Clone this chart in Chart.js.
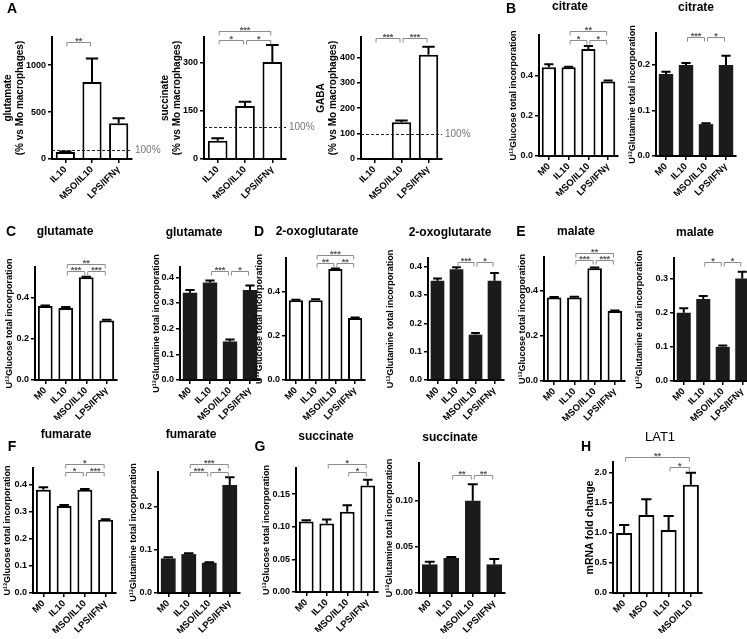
<!DOCTYPE html>
<html><head><meta charset="utf-8">
<script src="https://cdn.jsdelivr.net/npm/chart.js@4.4.1/dist/chart.umd.min.js"></script>
<style>
html,body{margin:0;padding:0;background:#fff;width:747px;height:639px;overflow:hidden;}
#wrap{position:relative;width:747px;height:639px;overflow:hidden;background:#fff;}
canvas{position:absolute;left:0;top:0;}
</style></head><body><div id="wrap"></div>
<script>
// ---------- categories ----------
const groupsA = ['IL10', 'MSO/IL10', 'LPS/IFNγ'];
const groups4 = ['M0', 'IL10', 'MSO/IL10', 'LPS/IFNγ'];
const groupsH = ['M0', 'MSO', 'IL10', 'MSO/IL10'];

// ---------- values (mean) and SEM ----------
const A_glutamate = [75, 820, 380];        const A_glutamate_sem = [5, 250, 55];
const A_succinate = [57, 165, 302];        const A_succinate_sem = [8, 13, 53];
const A_gaba = [0, 145, 410];              const A_gaba_sem = [0, 6, 32];
const B_citrate_glc = [0.44, 0.44, 0.53, 0.37];   const B_citrate_glc_sem = [0.015, 0.003, 0.015, 0.005];
const B_citrate_gln = [0.18, 0.20, 0.07, 0.20];   const B_citrate_gln_sem = [0.005, 0.004, 0.002, 0.02];
const C_glutamate_glc = [0.36, 0.35, 0.50, 0.29]; const C_glutamate_glc_sem = [0.003, 0.005, 0.003, 0.003];
const C_glutamate_gln = [0.34, 0.38, 0.15, 0.35]; const C_glutamate_gln_sem = [0.01, 0.007, 0.008, 0.018];
const D_oxo_glc = [0.36, 0.36, 0.50, 0.28];       const D_oxo_glc_sem = [0.002, 0.004, 0.003, 0.002];
const D_oxo_gln = [0.35, 0.39, 0.16, 0.35];       const D_oxo_gln_sem = [0.008, 0.007, 0.006, 0.027];
const E_malate_glc = [0.37, 0.37, 0.50, 0.31];    const E_malate_glc_sem = [0.003, 0.004, 0.003, 0.003];
const E_malate_gln = [0.20, 0.24, 0.10, 0.30];    const E_malate_gln_sem = [0.013, 0.009, 0.004, 0.02];
const F_fumarate_glc = [0.38, 0.32, 0.38, 0.27];  const F_fumarate_glc_sem = [0.009, 0.004, 0.003, 0.001];
const F_fumarate_gln = [0.08, 0.09, 0.07, 0.25];  const F_fumarate_gln_sem = [0.003, 0.002, 0.001, 0.018];
const G_succinate_glc = [0.108, 0.105, 0.123, 0.163]; const G_succinate_glc_sem = [0.002, 0.006, 0.010, 0.009];
const G_succinate_gln = [0.031, 0.038, 0.100, 0.031]; const G_succinate_gln_sem = [0.003, 0.001, 0.018, 0.006];
const H_lat1 = [1.0, 1.3, 1.05, 1.8];             const H_lat1_sem = [0.13, 0.26, 0.23, 0.2];

// ---------- y tick labels ----------
const ticksA1 = [0, 500, 1000];
const ticksA2 = [0, 150, 300];
const ticksA3 = [0, 100, 200, 300, 400];
const ticks02 = [0, 0.2, 0.4];
const ticks01_2 = [0, 0.1, 0.2];
const ticks01_3 = [0, 0.1, 0.2, 0.3];
const ticks01_4 = [0, 0.1, 0.2, 0.3, 0.4];
const ticksG1 = [0, 0.05, 0.10, 0.15];
const ticksG2 = [0, 0.05, 0.10];
const ticksH = [0, 0.5, 1.0, 1.5, 2.0];

// ---------- significance brackets [from, to, label, level] ----------
const sigA1 = [[0, 1, '**', 0]];
const sigA2 = [[0, 1, '*', 0], [1, 2, '*', 0], [0, 2, '***', 1]];
const sigA3 = [[0, 1, '***', 0], [1, 2, '***', 0]];
const sigB1 = [[1, 2, '*', 0], [2, 3, '*', 0], [1, 3, '**', 1]];
const sigB2 = [[1, 2, '***', 0], [2, 3, '*', 0]];
const sigC1 = [[1, 2, '***', 0], [2, 3, '***', 0], [1, 3, '**', 1]];
const sigC2 = [[1, 2, '***', 0], [2, 3, '*', 0]];
const sigD1 = [[1, 2, '**', 0], [2, 3, '**', 0], [1, 3, '***', 1]];
const sigD2 = [[1, 2, '***', 0], [2, 3, '*', 0]];
const sigE1 = [[1, 2, '***', 0], [2, 3, '***', 0], [1, 3, '**', 1]];
const sigE2 = [[1, 2, '*', 0], [2, 3, '*', 0]];
const sigF1 = [[1, 2, '*', 0], [2, 3, '***', 0], [1, 3, '*', 1]];
const sigF2 = [[1, 2, '***', 0], [2, 3, '*', 0], [1, 3, '***', 1]];
const sigG1 = [[2, 3, '*', 0], [1, 3, '*', 1]];
const sigG2 = [[1, 2, '**', 0], [2, 3, '**', 0]];
const sigH = [[2, 3, '*', 0], [0, 3, '**', 1]];

const FONT = '"Liberation Sans", Arial, Helvetica, sans-serif';
const WHITE = '#ffffff', BLACK = '#1b1b1b';
const CW = 760, CH = 639;
const wrap = document.getElementById('wrap');

const yGlc = 'U¹³Glucose total incorporation';
const yGln = 'U¹³Glutamine total incorporation';
const yPct = n => [n, '(% vs Mo macrophages)'];

function extras(c) {
  return {
    id: 'extras',
    afterDatasetsDraw(chart) {
      const ctx = chart.ctx, meta = chart.getDatasetMeta(0), ys = chart.scales.y;
      ctx.save();
      ctx.strokeStyle = '#000'; ctx.lineWidth = 2;
      meta.data.forEach((bar, i) => {
        const s = c.sem[i];
        if (!s) return;
        const y1 = ys.getPixelForValue(c.values[i] + s);
        const hw = bar.width * 0.32;
        ctx.beginPath();
        ctx.moveTo(bar.x, bar.y); ctx.lineTo(bar.x, y1);
        ctx.moveTo(bar.x - hw, y1); ctx.lineTo(bar.x + hw, y1);
        ctx.stroke();
      });
      ctx.restore();
    },
    afterDraw(chart) {
      const ctx = chart.ctx, meta = chart.getDatasetMeta(0), ca = chart.chartArea, ys = chart.scales.y;
      ctx.save();
      if (c.ref) {
        const y = Math.round(ys.getPixelForValue(c.ref)) + 0.5;
        ctx.strokeStyle = '#222'; ctx.lineWidth = 1; ctx.setLineDash([3, 2]);
        ctx.beginPath(); ctx.moveTo(ca.left, y); ctx.lineTo(ca.right, y); ctx.stroke();
        ctx.setLineDash([]);
        ctx.fillStyle = '#777'; ctx.font = '10px ' + FONT; ctx.textAlign = 'left'; ctx.textBaseline = 'middle';
        ctx.fillText(c.refLabel, ca.right + 3, y);
      }
      (c.sig || []).forEach(([i, j, lab, lev]) => {
        const y = Math.round(ca.top + c.brBase - lev * c.brStep) + 0.5;
        const xi = meta.data[i].x + 1.5, xj = meta.data[j].x - 1.5;
        ctx.strokeStyle = '#8c8c8c'; ctx.lineWidth = 1;
        ctx.beginPath(); ctx.moveTo(xi, y + 4); ctx.lineTo(xi, y); ctx.lineTo(xj, y); ctx.lineTo(xj, y + 4); ctx.stroke();
        ctx.fillStyle = '#555'; ctx.font = 'bold 9px ' + FONT; ctx.textAlign = 'center'; ctx.textBaseline = 'alphabetic';
        ctx.fillText(lab, (xi + xj) / 2, y + 1);
      });
      if (c.title) {
        ctx.fillStyle = '#000'; ctx.textAlign = 'center'; ctx.textBaseline = 'middle';
        ctx.font = (c.titleBold === false ? '' : 'bold ') + (c.titleSize || 12) + 'px ' + FONT;
        ctx.fillText(c.title, c.titleX, c.titleY);
      }
      if (c.letter) {
        ctx.fillStyle = '#000'; ctx.textAlign = 'center'; ctx.textBaseline = 'middle';
        ctx.font = 'bold 14px ' + FONT;
        ctx.fillText(c.letter, c.letterX, c.letterY);
      }
      ctx.restore();
    }
  };
}

function makeChart(c) {
  const cv = document.createElement('canvas');
  cv.width = CW; cv.height = CH;
  cv.style.width = CW + 'px'; cv.style.height = CH + 'px';
  wrap.appendChild(cv);
  const yFont = c.yFont || 9;
  const ylh = yFont * 1.2;
  const yW = c.ax - c.yTitleX + ylh / 2;
  const xH = 40;
  const pad = { left: c.ax - yW, top: c.top, right: CW - c.end, bottom: CH - c.bot - xH };
  const tickFont = { family: FONT, size: 9, weight: 'bold' };
  return new Chart(cv, {
    type: 'bar',
    data: {
      labels: c.labels,
      datasets: [{
        data: c.values,
        backgroundColor: c.fill,
        borderColor: '#000',
        borderWidth: c.fill === WHITE ? 2 : 0,
        barPercentage: c.barPct || 0.72,
        categoryPercentage: 1
      }]
    },
    options: {
      responsive: false, animation: false, devicePixelRatio: 1, events: [],
      layout: { padding: pad },
      plugins: { legend: { display: false }, tooltip: { enabled: false } },
      scales: {
        x: {
          offset: true,
          grid: { display: true, drawOnChartArea: false, offset: false, tickLength: 4, color: '#000', lineWidth: 1.5 },
          border: { display: true, color: '#000', width: 2 },
          ticks: { autoSkip: false, minRotation: 45, maxRotation: 45, padding: 1, color: '#000', font: { family: FONT, size: 9.5, weight: 'bold' } },
          afterFit: s => { s.height = xH; }
        },
        y: {
          min: 0, max: c.yMax,
          grid: { display: true, drawOnChartArea: false, tickLength: 4, color: '#000', lineWidth: 1.5 },
          border: { display: true, color: '#000', width: 2 },
          afterBuildTicks: s => { s.ticks = c.yTicks.map(v => ({ value: v })); },
          ticks: { padding: 2, color: '#000', font: tickFont, callback: v => Number(v).toFixed(c.dec) },
          title: { display: true, text: c.yTitle, padding: 0, color: '#000', font: { family: FONT, size: yFont, weight: 'bold', lineHeight: 1.2 } },
          afterFit: s => { s.width = yW; }
        }
      }
    },
    plugins: [extras(c)]
  });
}

const charts = [
  // ---- A ----
  { labels: groupsA, values: A_glutamate, sem: A_glutamate_sem, fill: WHITE, yTicks: ticksA1, yMax: 1300, dec: 0,
    ax: 52, end: 132, top: 37, bot: 159, yTitle: yPct('glutamate'), yTitleX: 8, yFont: 10,
    sig: sigA1, brBase: 5, brStep: 9, ref: 100, refLabel: '100%', letter: 'A', letterX: 12, letterY: 9 },
  { labels: groupsA, values: A_succinate, sem: A_succinate_sem, fill: WHITE, yTicks: ticksA2, yMax: 380, dec: 0,
    ax: 204, end: 286, top: 37, bot: 159, yTitle: yPct('succinate'), yTitleX: 165, yFont: 10,
    sig: sigA2, brBase: 3, brStep: 9, ref: 100, refLabel: '100%' },
  { labels: groupsA, values: A_gaba, sem: A_gaba_sem, fill: WHITE, yTicks: ticksA3, yMax: 480, dec: 0,
    ax: 361, end: 442, top: 37, bot: 159, yTitle: yPct('GABA'), yTitleX: 321, yFont: 10,
    sig: sigA3, brBase: 1, brStep: 9, ref: 100, refLabel: '100%' },
  // ---- B ----
  { labels: groups4, values: B_citrate_glc, sem: B_citrate_glc_sem, fill: WHITE, yTicks: ticks02, yMax: 0.6, dec: 1,
    ax: 539, end: 618, top: 35, bot: 156, yTitle: yGlc, yTitleX: 514,
    sig: sigB1, brBase: 5, brStep: 9, title: 'citrate', titleX: 570, titleY: 7, letter: 'B', letterX: 511, letterY: 9 },
  { labels: groups4, values: B_citrate_gln, sem: B_citrate_gln_sem, fill: BLACK, yTicks: ticks01_2, yMax: 0.27, dec: 1,
    ax: 656, end: 736, top: 33, bot: 156, yTitle: yGln, yTitleX: 633,
    sig: sigB2, brBase: 4, brStep: 8, title: 'citrate', titleX: 696, titleY: 8 },
  // ---- C ----
  { labels: groups4, values: C_glutamate_glc, sem: C_glutamate_glc_sem, fill: WHITE, yTicks: ticks02, yMax: 0.55, dec: 1,
    ax: 35, end: 117, top: 267, bot: 380, yTitle: yGlc, yTitleX: 10,
    sig: sigC1, brBase: 4, brStep: 7, title: 'glutamate', titleX: 65, titleY: 232, letter: 'C', letterX: 11, letterY: 232 },
  { labels: groups4, values: C_glutamate_gln, sem: C_glutamate_gln_sem, fill: BLACK, yTicks: ticks01_4, yMax: 0.44, dec: 1,
    ax: 180, end: 260, top: 267, bot: 380, yTitle: yGln, yTitleX: 157,
    sig: sigC2, brBase: 4, brStep: 8, title: 'glutamate', titleX: 194, titleY: 233 },
  // ---- D ----
  { labels: groups4, values: D_oxo_glc, sem: D_oxo_glc_sem, fill: WHITE, yTicks: ticks02, yMax: 0.55, dec: 1,
    ax: 286, end: 365, top: 258, bot: 380, yTitle: yGlc, yTitleX: 260,
    sig: sigD1, brBase: 5, brStep: 8, title: '2-oxoglutarate', titleX: 317, titleY: 232, letter: 'D', letterX: 259, letterY: 232 },
  { labels: groups4, values: D_oxo_gln, sem: D_oxo_gln_sem, fill: BLACK, yTicks: ticks01_4, yMax: 0.43, dec: 1,
    ax: 428, end: 504, top: 258, bot: 380, yTitle: yGln, yTitleX: 391,
    sig: sigD2, brBase: 4, brStep: 8, title: '2-oxoglutarate', titleX: 450, titleY: 233 },
  // ---- E ----
  { labels: groups4, values: E_malate_glc, sem: E_malate_glc_sem, fill: WHITE, yTicks: ticks02, yMax: 0.55, dec: 1,
    ax: 544, end: 625, top: 257, bot: 381, yTitle: yGlc, yTitleX: 523,
    sig: sigE1, brBase: 3, brStep: 7, title: 'malate', titleX: 576, titleY: 232, letter: 'E', letterX: 521, letterY: 232 },
  { labels: groups4, values: E_malate_gln, sem: E_malate_gln_sem, fill: BLACK, yTicks: ticks01_3, yMax: 0.36, dec: 1,
    ax: 674, end: 752, top: 258, bot: 381, yTitle: yGln, yTitleX: 640,
    sig: sigE2, brBase: 4, brStep: 8, title: 'malate', titleX: 695, titleY: 233 },
  // ---- F ----
  { labels: groups4, values: F_fumarate_glc, sem: F_fumarate_glc_sem, fill: WHITE, yTicks: ticks01_4, yMax: 0.46, dec: 1,
    ax: 33, end: 116, top: 468, bot: 593, yTitle: yGlc, yTitleX: 8,
    sig: sigF1, brBase: 4, brStep: 8, title: 'fumarate', titleX: 66, titleY: 435, letter: 'F', letterX: 12, letterY: 447 },
  { labels: groups4, values: F_fumarate_gln, sem: F_fumarate_gln_sem, fill: BLACK, yTicks: ticks01_2, yMax: 0.28, dec: 1,
    ax: 158, end: 240, top: 472, bot: 593, yTitle: yGln, yTitleX: 134,
    sig: sigF2, brBase: 0, brStep: 8, title: 'fumarate', titleX: 191, titleY: 435 },
  // ---- G ----
  { labels: groups4, values: G_succinate_glc, sem: G_succinate_glc_sem, fill: WHITE, yTicks: ticksG1, yMax: 0.19, dec: 2,
    ax: 296, end: 378, top: 468, bot: 592, yTitle: yGlc, yTitleX: 267,
    sig: sigG1, brBase: 4, brStep: 8, title: 'succinate', titleX: 326, titleY: 437, letter: 'G', letterX: 260, letterY: 447 },
  { labels: groups4, values: G_succinate_gln, sem: G_succinate_gln_sem, fill: BLACK, yTicks: ticksG2, yMax: 0.141, dec: 2,
    ax: 419, end: 505, top: 463, bot: 593, yTitle: yGln, yTitleX: 390,
    sig: sigG2, brBase: 12, brStep: 8, title: 'succinate', titleX: 450, titleY: 438 },
  // ---- H ----
  { labels: groupsH, values: H_lat1, sem: H_lat1_sem, fill: WHITE, yTicks: ticksH, yMax: 2.18, dec: 1,
    ax: 613, end: 702, top: 462, bot: 593, yTitle: 'mRNA fold change', yTitleX: 590, yFont: 10.5,
    sig: sigH, brBase: 5, brStep: 10, title: 'LAT1', titleX: 660, titleY: 437, titleBold: false, titleSize: 13,
    letter: 'H', letterX: 586, letterY: 447 }
];

charts.forEach(makeChart);
</script>
</body></html>
